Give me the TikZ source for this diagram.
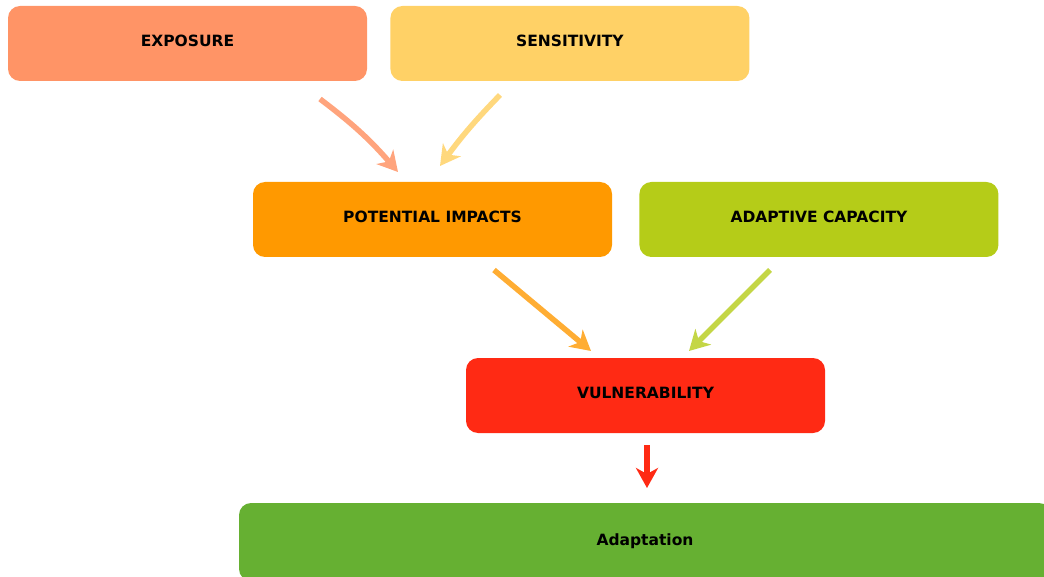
\documentclass[tikz,border=0pt]{standalone}
\usepackage{fontspec}
\setmainfont{DejaVu Sans}
\usetikzlibrary{arrows.meta,positioning}
\definecolor{expocol}{HTML}{FF9466}
\definecolor{senscol}{HTML}{FFD166}
\definecolor{impactcol}{HTML}{FF9900}
\definecolor{capacol}{HTML}{B5CC18}
\definecolor{vulncol}{HTML}{FF2A14}
\definecolor{adaptcol}{HTML}{66B032}
\tikzset{x=1pt, y=-1pt, % one unit per pixel, y going down
>={Stealth[length=20pt,width=22pt,inset=6pt]}, % big pointed heads
box/.style={rounded corners=12pt, minimum width=359pt, minimum height=75pt, inner sep=0pt, text depth=5pt, font=\fontsize{15.5}{17}\selectfont\bfseries}, % sets the look of every box
arr/.style={->, line width=5.5pt}, % thick arrows between boxes
}
\begin{document}
\begin{tikzpicture}
\useasboundingbox (0,0) rectangle (1044,577);
\node[box, fill=expocol] (exposure) at (187.5,43.5) {EXPOSURE};
\node[box, fill=senscol, right=23pt of exposure] (sensitivity) {SENSITIVITY};
\node[box, fill=impactcol] (impacts) at (432.5,219.5) {POTENTIAL IMPACTS};
\node[box, fill=capacol, right=27pt of impacts] (capacity) {ADAPTIVE CAPACITY};
\node[box, fill=vulncol] (vulnerability) at (645.5,395.5) {VULNERABILITY};
\node[box, fill=adaptcol, minimum width=812pt, minimum height=78pt] (adaptation) at (645,542) {Adaptation};
% arrow ends
\coordinate (e1) at (320,99);
\coordinate (e2) at (398,172);
\coordinate (s1) at (500,95);
\coordinate (s2) at (440,166);
\coordinate (p1) at (494,270);
\coordinate (p2) at (591,351);
\coordinate (c1) at (770,270);
\coordinate (c2) at (689,351);
\coordinate (v1) at (647,445);
\coordinate (v2) at (647,488);
\draw[arr, expocol!85!white] (e1) to[bend left=6] (e2);
\draw[arr, senscol!85!white] (s1) to[bend right=4] (s2);
\draw[arr, impactcol!80!white] (p1) -- (p2);
\draw[arr, capacol!80!white] (c1) -- (c2);
\draw[arr, vulncol] (v1) -- (v2);
\end{tikzpicture}
\end{document}
